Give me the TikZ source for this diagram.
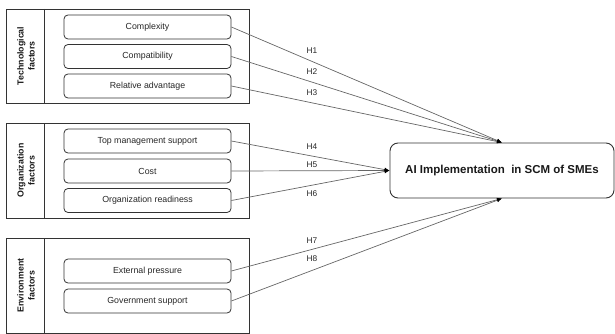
\documentclass[tikz,border=0pt]{standalone}
\usepackage{fontspec}
\setmainfont{Liberation Sans}
\usetikzlibrary{arrows.meta}
\begin{document}
\begin{tikzpicture}[x=1pt,y=-1pt,
  item/.style={draw=black!80, rounded corners=4pt, line width=0.8pt, minimum width=167pt, minimum height=24pt, inner sep=0pt, font=\fontsize{8.8}{10}\selectfont, text=black!85},
  group/.style={draw=black!80, line width=0.8pt},
  grouplabel/.style={rotate=90, align=center, font=\bfseries\fontsize{8.8}{11}\selectfont, text=black!90},
  conn/.style={draw=black!60, line width=0.7pt, -{Latex[length=5pt,width=4pt,black]}},
  hlab/.style={font=\fontsize{8.3}{10}\selectfont, text=black!85, inner sep=0pt},
  main/.style={draw=black!80, rounded corners=8pt, line width=0.9pt, minimum width=224pt, minimum height=55pt, font=\bfseries\fontsize{11.5}{13}\selectfont, text=black!90}]
\useasboundingbox (0,0) rectangle (615,334);
% group frames
\draw[group] (6,9) rectangle (249,103);
\draw[group] (44,9) -- (44,103);
\draw[group] (6,123) rectangle (249,218);
\draw[group] (44,123) -- (44,218);
\draw[group] (6,238) rectangle (249,333);
\draw[group] (44,238) -- (44,333);
\node[grouplabel] (g1) at (26,56) {Technological\\factors};
\node[grouplabel] (g2) at (26,170.5) {Organization\\factors};
\node[grouplabel] (g3) at (26,285.5) {Environment\\factors};
% items
\node[item] (c1) at (147.5,27) {Complexity};
\node[item] (c2) at (147.5,56.5) {Compatibility};
\node[item] (c3) at (147.5,86) {Relative advantage};
\node[item] (o1) at (147.5,141) {Top management support};
\node[item] (o2) at (147.5,171) {Cost};
\node[item] (o3) at (147.5,200.5) {Organization readiness};
\node[item] (e1) at (147.5,271) {External pressure};
\node[item] (e2) at (147.5,301) {Government support};
% main
\node[main] (ai) at (502,170.5) {AI Implementation\ \ in SCM of SMEs};
% connectors
\draw[conn] (c1.east) -- (ai.north);
\draw[conn] (c2.east) -- (ai.north);
\draw[conn] (c3.east) -- (ai.north);
\draw[conn] (o1.east) -- (ai.west);
\draw[conn] (o2.east) -- (ai.west);
\draw[conn] (o3.east) -- (ai.west);
\draw[conn] (e1.east) -- (ai.south);
\draw[conn] (e2.east) -- (ai.south);
% labels
\node[hlab] (h1) at (312,51) {H1};
\node[hlab] (h2) at (312,72) {H2};
\node[hlab] (h3) at (312,93) {H3};
\node[hlab] (h4) at (312,147) {H4};
\node[hlab] (h5) at (312,165) {H5};
\node[hlab] (h6) at (312,194) {H6};
\node[hlab] (h7) at (312,241) {H7};
\node[hlab] (h8) at (312,259) {H8};
\end{tikzpicture}
\end{document}
